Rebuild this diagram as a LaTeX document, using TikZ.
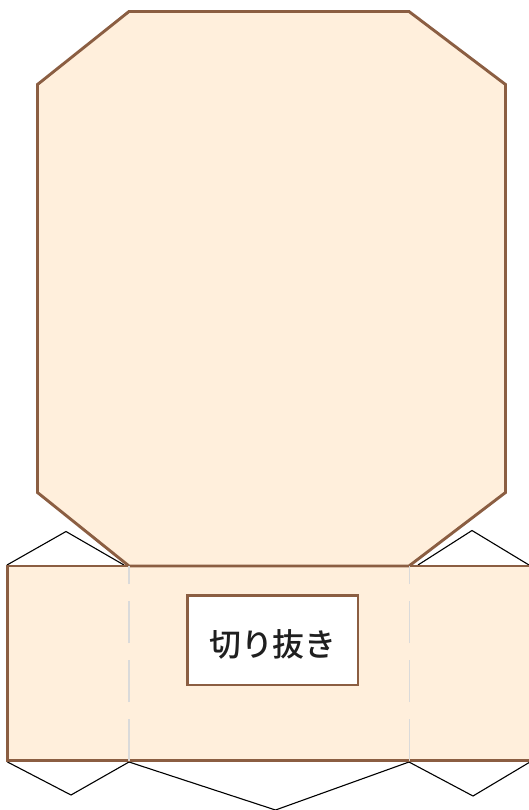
\documentclass[tikz,border=0pt]{standalone}
\usepackage{fontspec}
\newfontfamily\cjk{Noto Sans CJK JP Medium}
\definecolor{paper}{HTML}{FFEFDC}
\definecolor{edge}{HTML}{8B5E42}
\definecolor{foldl}{HTML}{DADADA}
\tikzset{
  panel/.style={fill=paper,draw=edge,line width=2.9bp,line join=miter},
  flap/.style={draw=black,line width=1.1bp,line join=miter,fill=white},
  foldline/.style={draw=foldl,line width=1.2bp,dash pattern=on 42.5bp off 16.5bp},
}
\begin{document}
\begin{tikzpicture}[x=1bp,y=-1bp]
\useasboundingbox (0,0) rectangle (529,810);
% flaps
\draw[flap] (7,565) -- (66,531.5) -- (124,565);
\draw[flap] (418,565) -- (472,530.5) -- (529,565);
\draw[flap] (7.5,762) -- (71,795) -- (129,762);
\draw[flap] (129,762) -- (275.5,810) -- (409,762);
\draw[flap] (409,762) -- (473,796) -- (530,762);
% band and lid
\draw[panel] (7.5,566) rectangle (535,760.7);
\draw[panel] (129,566) -- (37.5,492.5) -- (37.5,84.5) -- (129,11.5) -- (409,11.5) -- (505.5,84.5) -- (505.5,492.5) -- (409,566) -- cycle;
% folds
\draw[foldline] (129,761) -- (129,566);
\draw[foldline] (409.3,761) -- (409.3,566);
% window
\node[draw=edge,line width=2.9bp,fill=white,minimum width=170.5bp,minimum height=89.5bp,inner sep=0pt] (win) at (272.7,640.2) {};
\node[font=\cjk\fontsize{32}{36}\selectfont,text=black!88,inner sep=0pt] (lbl) at ([xshift=0.2bp,yshift=-4bp]win.center) {切り抜き};
\end{tikzpicture}
\end{document}
